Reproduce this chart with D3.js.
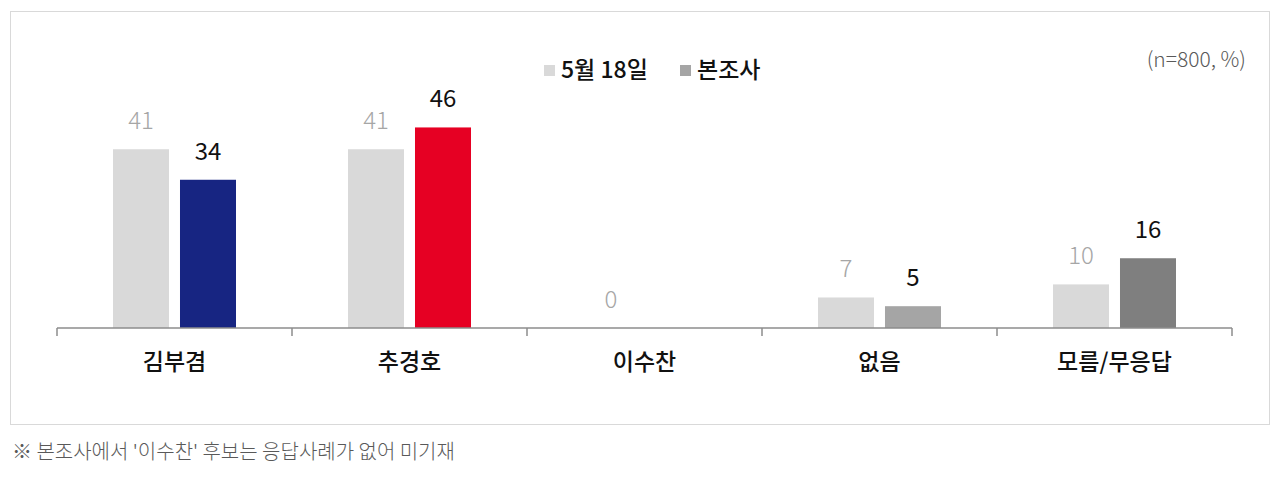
<!DOCTYPE html>
<html>
<head>
<meta charset="utf-8">
<script src="https://cdn.jsdelivr.net/npm/d3@7"></script>
<style>
  body { margin: 0; background: #fff; }
  text { font-family: "Noto Sans CJK KR", "Noto Sans", sans-serif; }
</style>
</head>
<body>
<div id="chart"></div>
<script>
// data
let categories = ["김부겸", "추경호", "이수찬", "없음", "모름/무응답"];
let seriesNames = ["5월 18일", "본조사"];
let prevValues = [41, 41, 0, 7, 10];
let currValues = [34, 46, null, 5, 16];
let currColors = ["#172582", "#e60023", "#a5a5a5", "#a5a5a5", "#7f7f7f"];

let width = 1280, height = 478;

let svg = d3.select("#chart")
    .append("svg")
    .attr("width", width)
    .attr("height", height);

// outer frame
svg.append("rect")
    .attr("x", 10.5).attr("y", 11.5)
    .attr("width", 1259).attr("height", 413)
    .attr("fill", "none")
    .attr("stroke", "#d9d9d9")
    .attr("stroke-width", 1);

let x = d3.scaleBand()
    .domain(categories)
    .range([57, 1232])
    .padding(0);

let x1 = d3.scaleBand()
    .domain(seriesNames)
    .range([56, 179])
    .paddingInner(0.164);

let y = d3.scaleLinear()
    .domain([0, 50])
    .range([328, 110]);

let rows = categories.map((c, i) => ({
    cat: c,
    vals: [
        {s: seriesNames[0], v: prevValues[i], color: "#d9d9d9", label: "#a6a6a6"},
        {s: seriesNames[1], v: currValues[i], color: currColors[i], label: "#111"}
    ]
}));

let groups = svg.selectAll(".grp")
    .data(rows)
    .enter()
    .append("g")
    .attr("class", "grp")
    .attr("transform", d => `translate(${x(d.cat)},0)`);

groups.selectAll("rect")
    .data(d => d.vals.filter(v => v.v != null))
    .enter()
    .append("rect")
    .attr("x", d => x1(d.s))
    .attr("y", d => y(d.v))
    .attr("width", x1.bandwidth())
    .attr("height", d => y(0) - y(d.v))
    .attr("fill", d => d.color);

groups.selectAll("text")
    .data(d => d.vals.filter(v => v.v != null))
    .enter()
    .append("text")
    .attr("x", d => x1(d.s) + x1.bandwidth() / 2)
    .attr("y", d => y(d.v) - 20)
    .attr("text-anchor", "middle")
    .style("font-size", "24px")
    .style("font-weight", d => d.s === seriesNames[0] ? 300 : 400)
    .attr("fill", d => d.label)
    .text(d => d.v);

// x axis
let xAxis = svg.append("g")
    .attr("transform", `translate(0,${y(0)})`)
    .call(d3.axisBottom(x).tickSize(0));

xAxis.select(".domain")
    .attr("stroke", "#8c8c8c")
    .attr("stroke-width", 1.5)
    .attr("d", "M57,0H1232");

xAxis.selectAll(".tick text")
    .style("font-size", "23px")
    .style("font-weight", 500)
    .attr("fill", "#111")
    .attr("y", 42)
    .attr("dy", "0");

// boundary ticks between categories
let edges = categories.map(c => x(c)).concat([x.range()[1]]);
xAxis.selectAll(".edge")
    .data(edges)
    .enter()
    .append("line")
    .attr("x1", d => d).attr("x2", d => d)
    .attr("y1", 0).attr("y2", 8)
    .attr("stroke", "#8c8c8c")
    .attr("stroke-width", 1.5);

// legend
let legendX = [544, 680];
let legendColors = ["#d9d9d9", "#a5a5a5"];
let legend = svg.append("g");
seriesNames.forEach((s, i) => {
    legend.append("rect")
        .attr("x", legendX[i]).attr("y", 65)
        .attr("width", 11).attr("height", 11)
        .attr("fill", legendColors[i]);
    legend.append("text")
        .attr("x", legendX[i] + 17).attr("y", 78)
        .style("font-size", "23px")
        .style("font-weight", 500)
        .attr("fill", "#111")
        .text(s);
});

svg.append("text")
    .attr("x", 1246).attr("y", 67)
    .attr("text-anchor", "end")
    .style("font-size", "21px")
    .style("font-weight", 300)
    .attr("fill", "#595959")
    .text("(n=800, %)");

svg.append("text")
    .attr("x", 12).attr("y", 459)
    .style("font-size", "20px")
    .style("font-weight", 300)
    .attr("fill", "#595959")
    .text("※ 본조사에서 '이수찬' 후보는 응답사례가 없어 미기재");
</script>
</body>
</html>
